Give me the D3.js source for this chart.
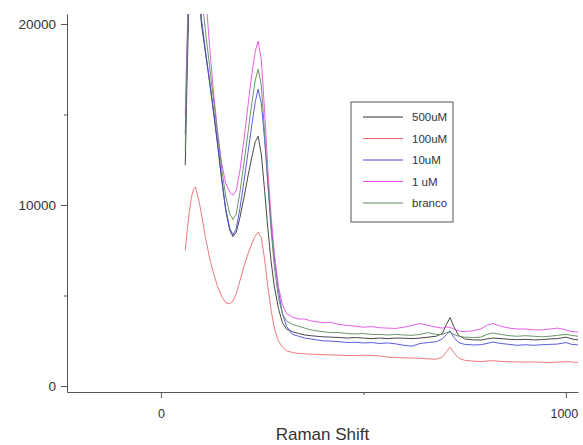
<!DOCTYPE html>
<html>
<head>
<meta charset="utf-8">
<script src="https://cdn.jsdelivr.net/npm/d3@7"></script>
<style>
  body { margin: 0; background: #fff; }
  svg { display: block; font-family: "Liberation Sans", Arial, sans-serif; }
  .axis path, .axis line { stroke: #555; }
  .axis text { fill: #333; font-size: 13.5px; }
</style>
</head>
<body>
<div id="chart"></div>
<script>
// Raman shift positions shared by all spectra
const shift = [60, 65, 70, 75, 80, 85, 90, 95, 100, 110, 120, 130, 140, 150, 160, 170, 178, 186, 195,
  205, 215, 225, 233, 240, 248, 256, 264, 272, 280, 290, 300, 310, 325, 340, 355, 370, 385, 400, 420,
  440, 460, 480, 500, 520, 540, 560, 580, 600, 620, 640, 660, 680, 695, 705, 714, 723, 735, 750, 770,
  790, 805, 820, 840, 860, 880, 900, 920, 940, 960, 980, 1000, 1015, 1030];

const s500uM = [12200, 17500, 22000, 25000, 26500, 26000, 24000, 21300, 20000, 18400, 16800, 15100, 13300, 11400, 9700, 8600, 8250, 8500, 9300,
  10400, 11600, 12700, 13500, 13800, 12800, 10800, 8700, 6900, 5500, 4300, 3500, 3150, 3000, 2900, 2820, 2780, 2750, 2720, 2700,
  2680, 2650, 2680, 2650, 2620, 2650, 2620, 2650, 2640, 2620, 2650, 2700, 2750, 2900, 3400, 3780, 3300, 2800, 2600, 2550,
  2540, 2600, 2650, 2620, 2580, 2560, 2580, 2550, 2560, 2600, 2620, 2700, 2600, 2550];

const s100uM = [7500, 8600, 9600, 10400, 10850, 11000, 10600, 10100, 9500, 8200, 7100, 6200, 5500, 4950, 4600, 4550, 4700, 5100, 5800,
  6600, 7300, 7900, 8300, 8500, 8200, 7000, 5500, 4200, 3200, 2500, 2150, 1950, 1850, 1800, 1780, 1760, 1750, 1730, 1720,
  1700, 1690, 1680, 1700, 1690, 1660, 1600, 1580, 1560, 1550, 1530, 1500, 1480, 1600, 1900, 2150, 1850, 1550, 1420, 1380,
  1350, 1380, 1400, 1360, 1340, 1330, 1320, 1330, 1310, 1300, 1320, 1350, 1330, 1300];

const s10uM = [13900, 18500, 23000, 25500, 26500, 26000, 24200, 21800, 20300, 18500, 16900, 15200, 13400, 11500, 9800, 8700, 8350, 8700, 9800,
  11300, 12900, 14500, 15700, 16400, 15600, 13600, 11200, 9000, 7100, 5300, 4000, 3300, 2850, 2750, 2650, 2600, 2550, 2500, 2480,
  2450, 2400, 2420, 2380, 2400, 2350, 2380, 2330, 2250, 2200, 2350, 2400, 2450, 2600, 2850, 3050, 2700, 2400, 2300, 2270,
  2280, 2350, 2430, 2350, 2300, 2250, 2280, 2250, 2280, 2300, 2320, 2400, 2300, 2270];

const s1uM = [15000, 19500, 23500, 26000, 27500, 28000, 27500, 26500, 25000, 21800, 18800, 16200, 14000, 12300, 11200, 10700, 10550, 10800, 11900,
  13600, 15500, 17300, 18500, 19050, 18000, 15200, 12000, 9400, 7300, 5500, 4500, 4000, 3800, 3700, 3700, 3600, 3550, 3500, 3520,
  3400, 3350, 3300, 3250, 3280, 3220, 3200, 3180, 3250, 3350, 3450, 3350, 3250, 3200, 3250, 3250, 3150, 3050, 3000, 3050,
  3150, 3350, 3450, 3300, 3200, 3150, 3150, 3100, 3100, 3150, 3200, 3100, 3000, 2980];

const sBranco = [13000, 18800, 23000, 25500, 26500, 26500, 25000, 23300, 21700, 19600, 17700, 15800, 13900, 12000, 10500, 9500, 9200, 9500, 10700,
  12300, 14000, 15700, 16900, 17500, 16600, 14000, 11200, 8600, 6600, 4900, 4000, 3600, 3400, 3300, 3200, 3100, 3050, 3000, 2950,
  2950, 2900, 2880, 2900, 2850, 2850, 2820, 2850, 2820, 2800, 2850, 2950, 2850, 2850, 2950, 2980, 2850, 2750, 2700, 2680,
  2700, 2850, 2930, 2850, 2780, 2750, 2780, 2750, 2720, 2750, 2800, 2850, 2800, 2750];

const seriesNames = ["500uM", "100uM", "10uM", "1 uM", "branco"];
const seriesValues = [s500uM, s100uM, s10uM, s1uM, sBranco];
const seriesColors = ["#333333", "#ee6a6a", "#4a4ad8", "#e64ce6", "#5c8a5c"];

const yMajor = [0, 10000, 20000];
const yMinor = [5000, 15000];
const xMajor = [0, 1000];
const xMinor = [500];

const width = 583;
const height = 445;
const margin = { top: 14, right: 5, bottom: 53, left: 67 };
const innerWidth = width - margin.left - margin.right;
const innerHeight = height - margin.top - margin.bottom;

const svg = d3
  .select("#chart")
  .append("svg")
  .attr("width", width)
  .attr("height", height);

const g = svg
  .append("g")
  .attr("transform", "translate(" + margin.left + "," + margin.top + ")");

const xScale = d3.scaleLinear().domain([-232, 1030]).range([0, innerWidth]);
const yScale = d3.scaleLinear().domain([-330, 20550]).range([innerHeight, 0]);

g.append("clipPath")
  .attr("id", "plotClip")
  .append("rect")
  .attr("width", innerWidth)
  .attr("height", innerHeight);

const lineGenerator = d3
  .line()
  .x(function(d) { return xScale(d[0]); })
  .y(function(d) { return yScale(d[1]); });

const lines = g.append("g").attr("clip-path", "url(#plotClip)");

seriesValues.forEach(function(vals, i) {
  const pts = shift.map(function(x, j) { return [x, vals[j]]; });
  lines
    .append("path")
    .attr("d", lineGenerator(pts))
    .attr("fill", "none")
    .attr("stroke", seriesColors[i])
    .attr("stroke-width", 1)
    .attr("stroke-opacity", 0.9);
});

// axes: major ticks with labels, minor ticks shorter
g.append("g")
  .attr("class", "axis")
  .call(d3.axisLeft(yScale).tickValues(yMajor).tickSize(6).tickPadding(5).tickSizeOuter(0).tickFormat(d3.format("d")));

const yMinorGroup = g.append("g")
  .attr("class", "axis")
  .call(d3.axisLeft(yScale).tickValues(yMinor).tickSize(3));
yMinorGroup.select(".domain").remove();
yMinorGroup.selectAll("text").remove();

const xAxisGroup = g.append("g")
  .attr("class", "axis")
  .attr("transform", "translate(0," + innerHeight + ")")
  .call(d3.axisBottom(xScale).tickValues(xMajor).tickSize(6).tickSizeOuter(0).tickPadding(11).tickFormat(d3.format("d")));
xAxisGroup.selectAll("text").style("font-size", "12.5px");
// keep the last label inside the picture
xAxisGroup.selectAll(".tick text").filter(function(d) { return d === 1000; }).attr("dx", "-2");

const xMinorGroup = g.append("g")
  .attr("class", "axis")
  .attr("transform", "translate(0," + innerHeight + ")")
  .call(d3.axisBottom(xScale).tickValues(xMinor).tickSize(3));
xMinorGroup.select(".domain").remove();
xMinorGroup.selectAll("text").remove();

svg.append("text")
  .attr("x", margin.left + innerWidth / 2)
  .attr("y", 440)
  .attr("text-anchor", "middle")
  .attr("fill", "#333")
  .style("font-size", "17px")
  .text("Raman Shift");

// legend
const legend = svg.append("g").attr("transform", "translate(351,102)");

legend.append("rect")
  .attr("width", 102)
  .attr("height", 120)
  .attr("fill", "#fff")
  .attr("stroke", "#555")
  .attr("stroke-width", 1);

seriesNames.forEach(function(name, i) {
  const y = 15 + i * 21.5;
  legend.append("line")
    .attr("x1", 12)
    .attr("x2", 52)
    .attr("y1", y)
    .attr("y2", y)
    .attr("stroke", seriesColors[i])
    .attr("stroke-width", 1);
  legend.append("text")
    .attr("x", 61)
    .attr("y", y)
    .attr("dy", "0.35em")
    .attr("fill", "#333")
    .style("font-size", "11.5px")
    .text(name);
});
</script>
</body>
</html>
